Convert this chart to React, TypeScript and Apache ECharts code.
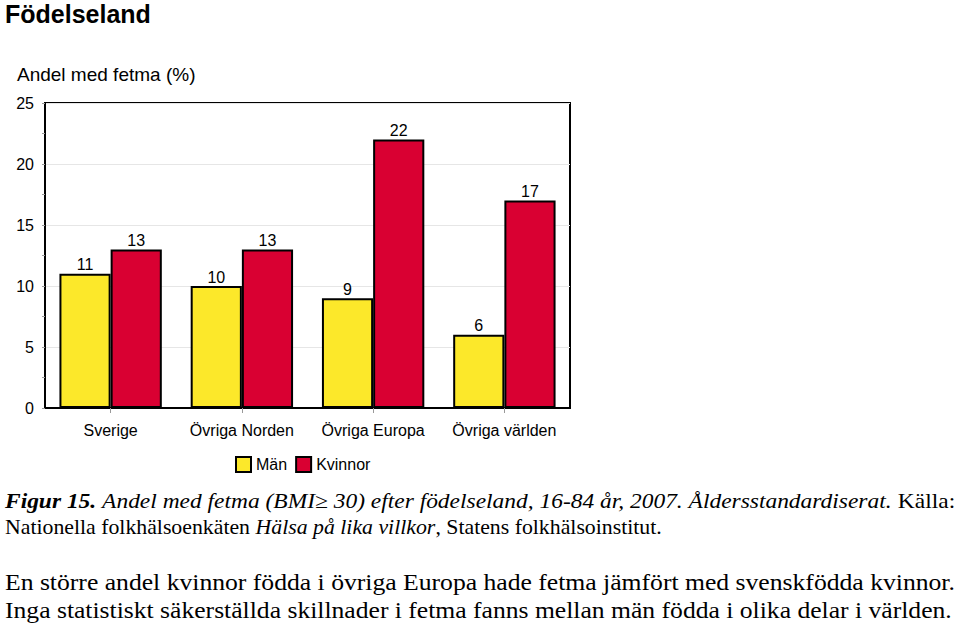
import React, { useEffect, useRef } from "react";
import * as echarts from "echarts";

const categories = ["Sverige", "Övriga Norden", "Övriga Europa", "Övriga världen"];
const men = [11, 10, 9, 6];
const women = [13, 13, 22, 17];
const seriesNames = ["Män", "Kvinnor"];

const title = "Födelseland";
const yTitle = "Andel med fetma (%)";
const captionLines = [
  "En större andel kvinnor födda i övriga Europa hade fetma jämfört med svenskfödda kvinnor.",
  "Inga statistiskt säkerställda skillnader i fetma fanns mellan män födda i olika delar i världen.",
];

export default function App() {
  const ref = useRef<HTMLDivElement>(null);
  useEffect(() => {
    if (!ref.current) return;
    const chart = echarts.init(ref.current, null, { renderer: "svg" });
    const serif = "Liberation Serif";
    const sans = "Liberation Sans";
    const capSize = 21;
    const bigSize = 24;
    chart.setOption({
      animation: false,
      backgroundColor: "#ffffff",
      textStyle: { fontFamily: sans },
      grid: {
        left: 45,
        right: 389,
        top: 103,
        bottom: 222,
        show: true,
        borderColor: "#000",
        borderWidth: 2,
        backgroundColor: "transparent",
      },
      legend: {
        data: seriesNames,
        left: 230,
        top: 451,
        itemWidth: 15,
        itemHeight: 15,
        itemGap: 8,
        icon: "rect",
        textStyle: { fontSize: 16, color: "#000", fontFamily: sans },
      },
      xAxis: {
        type: "category",
        data: categories,
        axisLine: { lineStyle: { color: "#000", width: 2 } },
        axisTick: { show: true, alignWithLabel: true, length: 5, lineStyle: { color: "#999" } },
        axisLabel: { interval: 0, fontSize: 16, color: "#000", margin: 14, fontFamily: sans },
      },
      yAxis: {
        type: "value",
        min: 0,
        max: 25,
        interval: 5,
        axisLine: { show: true, lineStyle: { color: "#000", width: 2 } },
        axisTick: { show: true, length: 3, lineStyle: { color: "#999" } },
        minorTick: { show: true, splitNumber: 2, length: 3, lineStyle: { color: "#999" } },
        splitLine: { show: true, lineStyle: { color: "#e6e6e6", width: 1 } },
        axisLabel: { fontSize: 16, color: "#000", margin: 11, fontFamily: sans },
      },
      series: [
        {
          name: seriesNames[0],
          type: "bar",
          data: men,
          barGap: "0%",
          barCategoryGap: "22%",
          itemStyle: { color: "#FCE82A", borderColor: "#000", borderWidth: 2 },
          label: { show: true, position: "top", distance: 1, fontSize: 16, color: "#000", fontFamily: sans },
        },
        {
          name: seriesNames[1],
          type: "bar",
          data: women,
          barGap: "0%",
          barCategoryGap: "22%",
          itemStyle: { color: "#D90032", borderColor: "#000", borderWidth: 2 },
          label: { show: true, position: "top", distance: 1, fontSize: 16, color: "#000", fontFamily: sans },
        },
      ],
      graphic: [
        {
          type: "text",
          x: 5,
          y: 1,
          style: { text: title, fontFamily: sans, fontSize: 25, fontWeight: "bold", fill: "#000", verticalAlign: "top" },
        },
        {
          type: "text",
          left: 17,
          top: 65,
          style: { text: yTitle, fontFamily: sans, fontSize: 19, fill: "#000" },
        },
        {
          type: "text",
          x: 5,
          y: 501,
          scaleX: 950 / (810 * capSize / 20),
          style: {
            text: "{b|Figur 15.} {i|Andel med fetma (BMI≥ 30) efter födelseland, 16-84 år, 2007. Åldersstandardiserat.} {n|Källa:}",
            verticalAlign: "middle",
            rich: {
              b: { fontFamily: serif, fontSize: capSize, fontStyle: "italic", fontWeight: "bold", fill: "#000" },
              i: { fontFamily: serif, fontSize: capSize, fontStyle: "italic", fill: "#000" },
              n: { fontFamily: serif, fontSize: capSize, fill: "#000" },
            },
            fontFamily: serif,
            fontSize: capSize,
            fill: "#000",
          },
        },
        {
          type: "text",
          x: 5,
          y: 527,
          scaleX: 656 / (602 * capSize / 20),
          style: {
            text: "Nationella folkhälsoenkäten {i|Hälsa på lika villkor}, Statens folkhälsoinstitut.",
            verticalAlign: "middle",
            rich: {
              i: { fontFamily: serif, fontSize: capSize, fontStyle: "italic", fill: "#000" },
            },
            fontFamily: serif,
            fontSize: capSize,
            fill: "#000",
          },
        },
        {
          type: "text",
          x: 5,
          y: 582,
          scaleX: 950 / (815 * bigSize / 22),
          style: { text: captionLines[0], verticalAlign: "middle", fontFamily: serif, fontSize: bigSize, fill: "#000" },
        },
        {
          type: "text",
          x: 5,
          y: 610,
          scaleX: 947 / (813 * bigSize / 22),
          style: { text: captionLines[1], verticalAlign: "middle", fontFamily: serif, fontSize: bigSize, fill: "#000" },
        },
      ],
    });
    return () => chart.dispose();
  }, []);
  return (
    <div
      ref={ref}
      style={{ position: "absolute", left: 0, top: 0, width: 959, height: 630 }}
    />
  );
}
